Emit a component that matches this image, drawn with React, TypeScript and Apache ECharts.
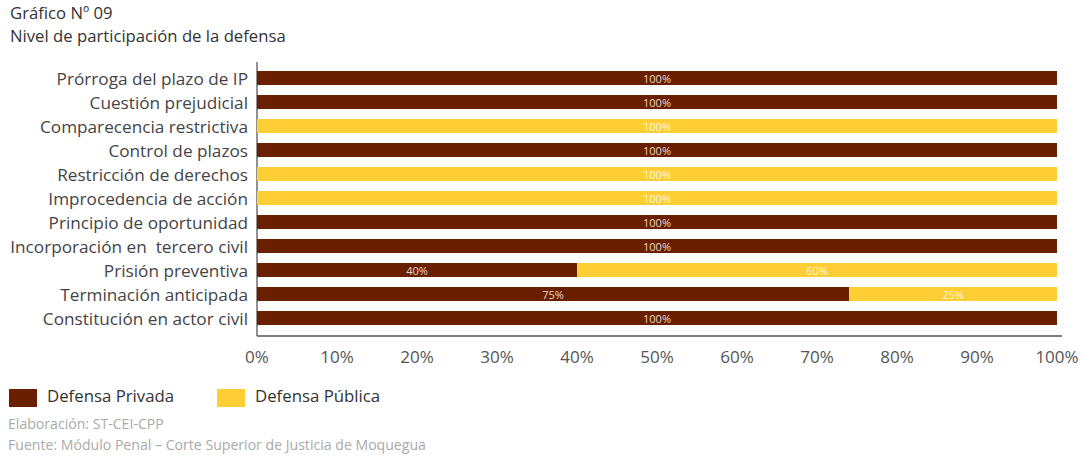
import React, { useEffect, useRef } from "react";
import * as echarts from "echarts";

const categories = [
  "Prórroga del plazo de IP",
  "Cuestión prejudicial",
  "Comparecencia restrictiva",
  "Control de plazos",
  "Restricción de derechos",
  "Improcedencia de acción",
  "Principio de oportunidad",
  "Incorporación en  tercero civil",
  "Prisión preventiva",
  "Terminación anticipada",
  "Constitución en actor civil",
];

const privada = [100, 100, 0, 100, 0, 0, 100, 100, 40, 74, 100];
const publica = [0, 0, 100, 0, 100, 100, 0, 0, 60, 26, 0];
const privadaLabels = ["100%", "100%", "", "100%", "", "", "100%", "100%", "40%", "75%", "100%"];
const publicaLabels = ["", "", "100%", "", "100%", "100%", "", "", "60%", "25%", ""];

const xTicks = [0, 10, 20, 30, 40, 50, 60, 70, 80, 90, 100];

const DARK = "#6a1f00";
const YELLOW = "#ffcd34";
const FONT = "'Open Sans', 'Noto Sans', sans-serif";

export default function App() {
  const ref = useRef<HTMLDivElement>(null);
  useEffect(() => {
    if (!ref.current) return;
    const chart = echarts.init(ref.current, undefined, { renderer: "svg" });
    chart.setOption({
      animation: false,
      textStyle: { fontFamily: FONT },
      grid: { left: 257, right: 32, top: 66, height: 264, containLabel: false },
      xAxis: {
        type: "value",
        min: xTicks[0],
        max: xTicks[xTicks.length - 1],
        interval: 10,
        axisLine: { show: false },
        axisTick: { show: false },
        splitLine: { show: false },
        axisLabel: {
          margin: 18,
          fontSize: 17,
          color: "#555",
          fontFamily: FONT,
          formatter: (v: number) => `${v}%`,
        },
      },
      yAxis: {
        type: "category",
        inverse: true,
        data: categories,
        axisLine: { show: false },
        axisTick: { show: false },
        axisLabel: { margin: 9, fontSize: 17.2, color: "#444", fontFamily: FONT },
      },
      series: [
        {
          name: "Defensa Privada",
          type: "bar",
          stack: "total",
          barWidth: 14,
          itemStyle: { color: DARK },
          data: privada,
          label: {
            show: true,
            position: "inside",
            fontSize: 11,
            color: "rgba(255,235,225,0.9)",
            fontFamily: FONT,
            formatter: (p: any) => privadaLabels[p.dataIndex],
          },
        },
        {
          name: "Defensa Pública",
          type: "bar",
          stack: "total",
          barWidth: 14,
          itemStyle: { color: YELLOW },
          data: publica,
          label: {
            show: true,
            position: "inside",
            fontSize: 11,
            color: "rgba(255,250,230,0.95)",
            fontFamily: FONT,
            formatter: (p: any) => publicaLabels[p.dataIndex],
          },
        },
      ],
      graphic: [
        { type: "line", shape: { x1: 257, y1: 62, x2: 257, y2: 336 }, style: { stroke: "#555", lineWidth: 1.3 } },
        { type: "line", shape: { x1: 257, y1: 336, x2: 1062, y2: 336 }, style: { stroke: "#555", lineWidth: 1.3 } },
        { type: "text", left: 10, top: 4, style: { text: "Gráfico Nº 09", font: `16.7px ${FONT}`, fill: "#333" } },
        { type: "text", left: 10, top: 27, style: { text: "Nivel de participación de la defensa", font: `16.7px ${FONT}`, fill: "#333" } },
        { type: "rect", shape: { x: 9, y: 389, width: 28, height: 18 }, style: { fill: DARK } },
        { type: "text", left: 47, top: 387, style: { text: "Defensa Privada", font: `16.8px ${FONT}`, fill: "#333" } },
        { type: "rect", shape: { x: 217, y: 389, width: 28, height: 18 }, style: { fill: YELLOW } },
        { type: "text", left: 255, top: 387, style: { text: "Defensa Pública", font: `16.8px ${FONT}`, fill: "#333" } },
        { type: "text", left: 8, top: 416, style: { text: "Elaboración: ST-CEI-CPP", font: `14.1px ${FONT}`, fill: "#aaa" } },
        { type: "text", left: 8, top: 437, style: { text: "Fuente: Módulo Penal – Corte Superior de Justicia de Moquegua", font: `14.1px ${FONT}`, fill: "#aaa" } },
      ],
    });
    return () => chart.dispose();
  }, []);
  return <div ref={ref} style={{ width: 1089, height: 458, position: "absolute", left: 0, top: 0 }} />;
}
